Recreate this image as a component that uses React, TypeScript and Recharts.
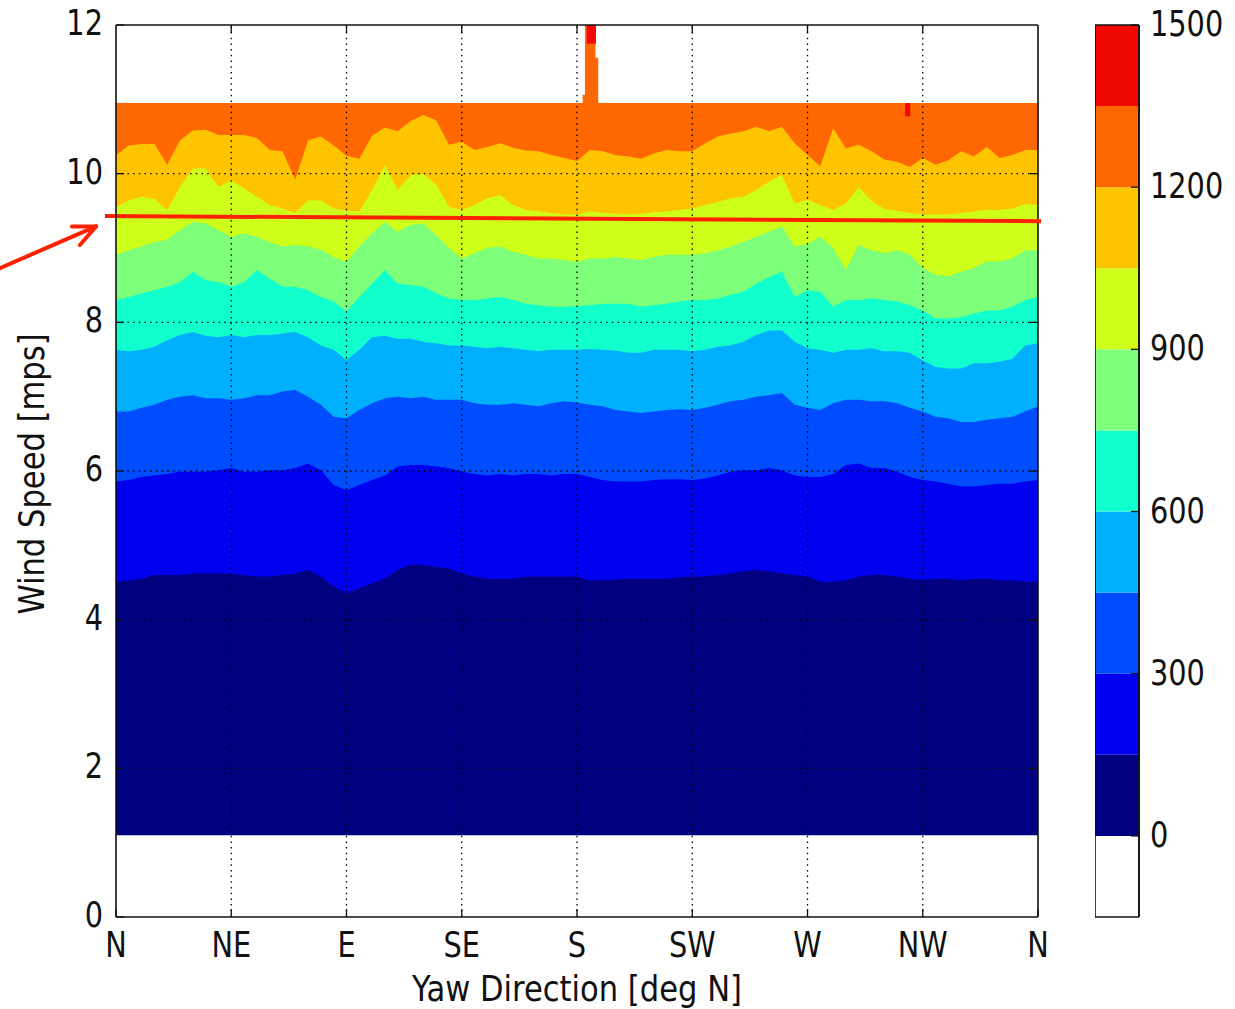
import { ComposedChart, BarChart, Area, Bar, XAxis, YAxis, ReferenceLine } from 'recharts';

// yaw direction [deg N], every 5 degrees
const yawDeg = [
  0, 5, 10, 15, 20, 25, 30, 35, 40, 45, 50, 55, 60, 65, 70, 75, 80, 85, 90, 95,
  100, 105, 110, 115, 120, 125, 130, 135, 140, 145, 150, 155, 160, 165, 170, 175, 180, 185, 190, 195,
  200, 205, 210, 215, 220, 225, 230, 235, 240, 245, 250, 255, 260, 265, 270, 275, 280, 285, 290, 295,
  300, 305, 310, 315, 320, 325, 330, 335, 340, 345, 350, 355, 360,
];

const compassTicks = [0, 45, 90, 135, 180, 225, 270, 315, 360];
const compassLabels = ['N', 'NE', 'E', 'SE', 'S', 'SW', 'W', 'NW', 'N'];
const windTicks = [0, 2, 4, 6, 8, 10, 12];

const cutInWind = 1.1; // lowest bin with data
const topWind = 10.95; // highest bin with data

// wind speed [mps] of each power contour (upper edge of the band)
const edge150 = [
  4.51, 4.53, 4.55, 4.6, 4.6, 4.6, 4.62, 4.62, 4.62, 4.62,
  4.6, 4.58, 4.58, 4.6, 4.62, 4.67, 4.58, 4.45, 4.36, 4.42,
  4.49, 4.55, 4.67, 4.74, 4.74, 4.71, 4.69, 4.62, 4.58, 4.55,
  4.55, 4.55, 4.58, 4.58, 4.58, 4.58, 4.58, 4.53, 4.53, 4.54,
  4.55, 4.55, 4.55, 4.55, 4.57, 4.58, 4.58, 4.6, 4.62, 4.65,
  4.67, 4.65, 4.62, 4.6, 4.58, 4.51, 4.51, 4.53, 4.58, 4.6,
  4.6, 4.58, 4.55, 4.53, 4.55, 4.55, 4.53, 4.55, 4.55, 4.53,
  4.53, 4.51, 4.51,
];
const edge300 = [
  5.86, 5.88, 5.92, 5.94, 5.96, 5.99, 5.99, 5.99, 6.01, 6.04,
  5.99, 5.99, 6.01, 6.01, 6.04, 6.1, 6.01, 5.81, 5.74, 5.81,
  5.88, 5.94, 6.06, 6.08, 6.08, 6.06, 6.04, 5.99, 5.96, 5.94,
  5.96, 5.94, 5.96, 5.96, 5.94, 5.96, 5.96, 5.92, 5.88, 5.86,
  5.86, 5.86, 5.88, 5.89, 5.89, 5.88, 5.9, 5.94, 5.99, 6.01,
  6.01, 6.04, 6.01, 5.94, 5.92, 5.92, 5.96, 6.08, 6.1, 6.04,
  6.04, 5.99, 5.92, 5.88, 5.86, 5.83, 5.79, 5.79, 5.81, 5.83,
  5.83, 5.86, 5.88,
];
const edge450 = [
  6.8, 6.8, 6.85, 6.89, 6.96, 7.0, 7.02, 6.98, 6.98, 6.96,
  6.98, 7.02, 7.02, 7.07, 7.09, 7.0, 6.89, 6.73, 6.71, 6.82,
  6.91, 6.98, 7.0, 6.98, 7.0, 6.96, 6.96, 6.96, 6.91, 6.89,
  6.89, 6.91, 6.89, 6.87, 6.91, 6.94, 6.92, 6.89, 6.87, 6.82,
  6.8, 6.78, 6.8, 6.82, 6.83, 6.82, 6.85, 6.89, 6.94, 6.96,
  7.0, 7.02, 7.05, 6.89, 6.85, 6.82, 6.91, 6.96, 6.96, 6.94,
  6.94, 6.91, 6.85, 6.8, 6.73, 6.71, 6.66, 6.66, 6.69, 6.71,
  6.73, 6.8, 6.87,
];
const edge600 = [
  7.63, 7.61, 7.63, 7.67, 7.76, 7.83, 7.87, 7.82, 7.8, 7.83,
  7.8, 7.83, 7.83, 7.85, 7.87, 7.8, 7.69, 7.63, 7.49, 7.63,
  7.8, 7.82, 7.78, 7.78, 7.74, 7.72, 7.69, 7.69, 7.67, 7.65,
  7.67, 7.65, 7.63, 7.61, 7.63, 7.63, 7.63, 7.64, 7.63, 7.62,
  7.59, 7.59, 7.63, 7.63, 7.63, 7.61, 7.63, 7.67, 7.69, 7.74,
  7.83, 7.89, 7.89, 7.74, 7.65, 7.63, 7.59, 7.63, 7.63, 7.65,
  7.61, 7.61, 7.59, 7.49, 7.4, 7.38, 7.38, 7.45, 7.45, 7.47,
  7.51, 7.69, 7.72,
];
const edge750 = [
  8.3, 8.34, 8.39, 8.43, 8.48, 8.54, 8.68, 8.57, 8.54, 8.48,
  8.54, 8.7, 8.59, 8.48, 8.48, 8.43, 8.34, 8.28, 8.15, 8.34,
  8.52, 8.7, 8.52, 8.5, 8.48, 8.39, 8.32, 8.3, 8.3, 8.32,
  8.34, 8.3, 8.25, 8.23, 8.21, 8.21, 8.22, 8.23, 8.25, 8.25,
  8.25, 8.21, 8.23, 8.25, 8.28, 8.3, 8.3, 8.32, 8.37, 8.41,
  8.52, 8.61, 8.68, 8.34, 8.43, 8.41, 8.21, 8.3, 8.3, 8.32,
  8.3, 8.28, 8.23, 8.16, 8.05, 8.05, 8.07, 8.12, 8.16, 8.16,
  8.21, 8.3, 8.34,
];
const edge900 = [
  8.91, 8.97, 9.02, 9.08, 9.11, 9.24, 9.35, 9.33, 9.24, 9.15,
  9.2, 9.15, 9.08, 9.02, 9.04, 9.02, 8.98, 8.88, 8.81, 9.02,
  9.2, 9.35, 9.22, 9.31, 9.33, 9.17, 9.0, 8.86, 8.93, 9.0,
  9.02, 8.95, 8.91, 8.86, 8.86, 8.84, 8.81, 8.86, 8.86, 8.88,
  8.86, 8.84, 8.88, 8.91, 8.91, 8.91, 8.93, 8.97, 9.02, 9.08,
  9.15, 9.22, 9.29, 9.02, 9.05, 9.15, 9.0, 8.71, 9.04, 8.97,
  8.93, 8.97, 8.91, 8.73, 8.64, 8.62, 8.68, 8.73, 8.82, 8.82,
  8.86, 8.97, 8.97,
];
const edge1050 = [
  9.55, 9.64, 9.69, 9.66, 9.51, 9.82, 10.07, 10.07, 9.82, 9.91,
  9.8, 9.69, 9.58, 9.53, 9.47, 9.64, 9.64, 9.53, 9.5, 9.49,
  9.78, 10.11, 9.78, 9.98, 10.0, 9.85, 9.55, 9.51, 9.58, 9.67,
  9.71, 9.58, 9.51, 9.49, 9.47, 9.45, 9.45, 9.49, 9.47, 9.46,
  9.45, 9.46, 9.48, 9.49, 9.51, 9.53, 9.58, 9.62, 9.67, 9.69,
  9.78, 9.89, 9.98, 9.6, 9.65, 9.58, 9.51, 9.6, 9.82, 9.64,
  9.52, 9.5, 9.47, 9.45, 9.45, 9.45, 9.47, 9.49, 9.51, 9.51,
  9.53, 9.59, 9.58,
];
const edge1200 = [
  10.25, 10.38, 10.4, 10.4, 10.12, 10.45, 10.58, 10.59, 10.52, 10.52,
  10.52, 10.48, 10.32, 10.3, 9.92, 10.45, 10.5, 10.38, 10.24, 10.2,
  10.51, 10.62, 10.57, 10.71, 10.79, 10.72, 10.39, 10.43, 10.32, 10.36,
  10.41, 10.35, 10.31, 10.3, 10.25, 10.21, 10.17, 10.32, 10.3, 10.25,
  10.23, 10.2, 10.27, 10.32, 10.3, 10.3, 10.41, 10.5, 10.54, 10.57,
  10.63, 10.57, 10.63, 10.41, 10.25, 10.1, 10.61, 10.34, 10.39, 10.3,
  10.19, 10.16, 10.09, 10.21, 10.12, 10.18, 10.3, 10.23, 10.36, 10.21,
  10.25, 10.32, 10.32,
];

// the narrow spike just past S
const spikeYaw = [182.2, 183.1, 187.2, 188.3];
const spikeTop = [11.06, 12, 11.56, 11.56];
const peakYaw = [183.8, 187.4];
const peakLow = [11.75, 11.75];
const dripYaw = [308.1, 310.1];
const dripLow = [10.77, 10.77];

// colorbar
const powerLevels = [-150, 0, 150, 300, 450, 600, 750, 900, 1050, 1200, 1350, 1500];
const powerColors = ['#ffffff', '#000080', '#0000f1', '#004cff', '#00b0ff', '#10ffcc', '#7dff7a', '#ceff1a', '#ffc400', '#ff6800', '#f10800'];
const powerTicks = [0, 300, 600, 900, 1200, 1500];

const rows = yawDeg.map((yaw, i) => ({
  yaw,
  top: topWind,
  e1200: edge1200[i],
  e1050: edge1050[i],
  e900: edge900[i],
  e750: edge750[i],
  e600: edge600[i],
  e450: edge450[i],
  e300: edge300[i],
  e150: edge150[i],
  floor: cutInWind,
}));
const spikeRows = spikeYaw.map((yaw, i) => ({ yaw, v: spikeTop[i] }));
const peakRows = peakYaw.map((yaw, i) => ({ yaw, v: [peakLow[i], 12] }));
const dripRows = dripYaw.map((yaw, i) => ({ yaw, v: [dripLow[i], topWind] }));

// paint order: highest contour first, each one over the last
const bands = [
  { key: 'e1200', color: powerColors[8] },
  { key: 'e1050', color: powerColors[7] },
  { key: 'e900', color: powerColors[6] },
  { key: 'e750', color: powerColors[5] },
  { key: 'e600', color: powerColors[4] },
  { key: 'e450', color: powerColors[3] },
  { key: 'e300', color: powerColors[2] },
  { key: 'e150', color: powerColors[1] },
  { key: 'floor', color: '#ffffff' },
];

const cbRow: Record<string, number | string> = { name: 'power' };
powerColors.forEach((_, i) => {
  const lo = powerLevels[i];
  const hi = powerLevels[i + 1];
  cbRow[`s${i}`] = hi <= 0 ? lo - hi : hi - lo;
});

const W = 1235;
const H = 1009;
const FONT = '"DejaVu Sans", sans-serif';
const INK = '#111111';
const RED = '#ff2200';
// inward tick length in data units (8px)
const TICK_DEG = 3.12;
const TICK_WIND = 0.108;

const SquishText = ({ x, y, anchor, size = 36, squish = 0.8, rotate = 0, children }: any) => (
  <text
    transform={`translate(${x},${y})${rotate ? ` rotate(${rotate})` : ''} scale(${squish},1)`}
    textAnchor={anchor}
    fontFamily={FONT}
    fontSize={size}
    fill={INK}
  >
    {children}
  </text>
);

const XTick = (p: any) => (
  <SquishText x={p.x} y={p.y + 27} anchor="middle">
    {compassLabels[compassTicks.indexOf(p.payload.value)]}
  </SquishText>
);

const YTick = (p: any) => (
  <SquishText x={p.x} y={p.y + 10} anchor="end">
    {p.payload.value}
  </SquishText>
);

const CbTick = (p: any) => (
  <SquishText x={p.x} y={p.y + 11} anchor="start">
    {p.payload.value}
  </SquishText>
);

const XTitle = (p: any) => {
  const vb = p.viewBox ?? { x: 116, y: 917, width: 922, height: 92 };
  return (
    <SquishText x={vb.x + vb.width / 2} y={vb.y + 84} anchor="middle" squish={0.85}>
      Yaw Direction [deg N]
    </SquishText>
  );
};

const YTitle = (p: any) => {
  const vb = p.viewBox ?? { x: 0, y: 25, width: 116, height: 892 };
  return (
    <SquishText x={vb.x + 44} y={vb.y + vb.height / 2 + 3} anchor="middle" squish={0.85} rotate={-90}>
      Wind Speed [mps]
    </SquishText>
  );
};

const frame = { stroke: INK, strokeWidth: 1.6 };
const tickMark = { stroke: INK, strokeWidth: 1.3 };

export default function App() {
  return (
    <div style={{ position: 'absolute', left: 0, top: 0, width: W, height: H, background: '#fff' }}>
      <div style={{ position: 'absolute', left: 0, top: 0 }}>
        <ComposedChart width={W} height={H} data={rows} margin={{ top: 25, right: 197, bottom: 0, left: 0 }}>
          <XAxis
            dataKey="yaw"
            type="number"
            domain={[0, 360]}
            ticks={compassTicks}
            interval={0}
            height={92}
            tickSize={-8}
            tickMargin={21}
            tick={XTick}
            tickLine={tickMark}
            axisLine={frame}
            label={XTitle}
          />
          <YAxis
            type="number"
            domain={[0, 12]}
            ticks={windTicks}
            interval={0}
            width={116}
            tickSize={-8}
            tickMargin={21}
            tick={YTick}
            tickLine={tickMark}
            axisLine={frame}
            label={YTitle}
          />

          <Area type="linear" dataKey="top" stroke="none" fill={powerColors[9]} fillOpacity={1} dot={false} activeDot={false} isAnimationActive={false} />
          <Area data={spikeRows} type="stepAfter" dataKey="v" stroke="none" fill={powerColors[9]} fillOpacity={1} dot={false} activeDot={false} isAnimationActive={false} />
          <Area data={peakRows} type="stepAfter" dataKey="v" stroke="none" fill={powerColors[10]} fillOpacity={1} dot={false} activeDot={false} isAnimationActive={false} />
          <Area data={dripRows} type="stepAfter" dataKey="v" stroke="none" fill={powerColors[10]} fillOpacity={1} dot={false} activeDot={false} isAnimationActive={false} />
          {bands.map((b) => (
            <Area
              key={b.key}
              type="linear"
              dataKey={b.key}
              stroke="none"
              fill={b.color}
              fillOpacity={1}
              dot={false}
              activeDot={false}
              isAnimationActive={false}
            />
          ))}

          {compassTicks.slice(1, -1).map((x) => (
            <ReferenceLine key={`gx${x}`} x={x} stroke="#000" strokeWidth={1.3} strokeDasharray="1.5 4.2" />
          ))}
          {windTicks.slice(1, -1).map((y) => (
            <ReferenceLine key={`gy${y}`} y={y} stroke="#000" strokeWidth={1.3} strokeDasharray="1.5 4.2" />
          ))}

          {/* top and right spines with their inward ticks */}
          <ReferenceLine y={12} stroke={INK} strokeWidth={1.6} />
          <ReferenceLine x={360} stroke={INK} strokeWidth={1.6} />
          {compassTicks.slice(1, -1).map((x) => (
            <ReferenceLine key={`tx${x}`} segment={[{ x, y: 12 }, { x, y: 12 - TICK_WIND }]} stroke={INK} strokeWidth={1.3} />
          ))}
          {windTicks.slice(1, -1).map((y) => (
            <ReferenceLine key={`ty${y}`} segment={[{ x: 360, y }, { x: 360 - TICK_DEG, y }]} stroke={INK} strokeWidth={1.3} />
          ))}

          {/* annotation: red marker line and arrow */}
          <ReferenceLine segment={[{ x: -4.3, y: 9.43 }, { x: 361.2, y: 9.36 }]} stroke={RED} strokeWidth={4} ifOverflow="visible" />
          <ReferenceLine segment={[{ x: -45.3, y: 8.73 }, { x: -7.8, y: 9.29 }]} stroke={RED} strokeWidth={4} strokeLinecap="round" ifOverflow="visible" />
          <ReferenceLine segment={[{ x: -17.2, y: 9.29 }, { x: -7.8, y: 9.29 }]} stroke={RED} strokeWidth={4} strokeLinecap="round" ifOverflow="visible" />
          <ReferenceLine segment={[{ x: -14.1, y: 9.04 }, { x: -7.8, y: 9.29 }]} stroke={RED} strokeWidth={4} strokeLinecap="round" ifOverflow="visible" />
        </ComposedChart>
      </div>

      <div style={{ position: 'absolute', left: 1095, top: 0 }}>
        <BarChart
          width={140}
          height={H}
          data={[cbRow]}
          margin={{ top: 25, right: 0, bottom: 92, left: 0 }}
          barCategoryGap={0}
          stackOffset="sign"
        >
          <XAxis dataKey="name" hide />
          <YAxis
            orientation="right"
            type="number"
            domain={[-150, 1500]}
            ticks={powerTicks}
            interval={0}
            width={96}
            tickSize={-8}
            tickMargin={19}
            tick={CbTick}
            tickLine={tickMark}
            axisLine={frame}
          />
          {powerColors.map((c, i) => (
            <Bar key={c} dataKey={`s${i}`} stackId="cb" fill={c} isAnimationActive={false} />
          ))}
          <ReferenceLine y={1500} stroke={INK} strokeWidth={1.6} />
          <ReferenceLine y={-150} stroke={INK} strokeWidth={1.6} />
          <ReferenceLine x="power" position="start" stroke={INK} strokeWidth={1.6} />
          <ReferenceLine x="power" position="end" stroke={INK} strokeWidth={1.6} />
        </BarChart>
      </div>
    </div>
  );
}
